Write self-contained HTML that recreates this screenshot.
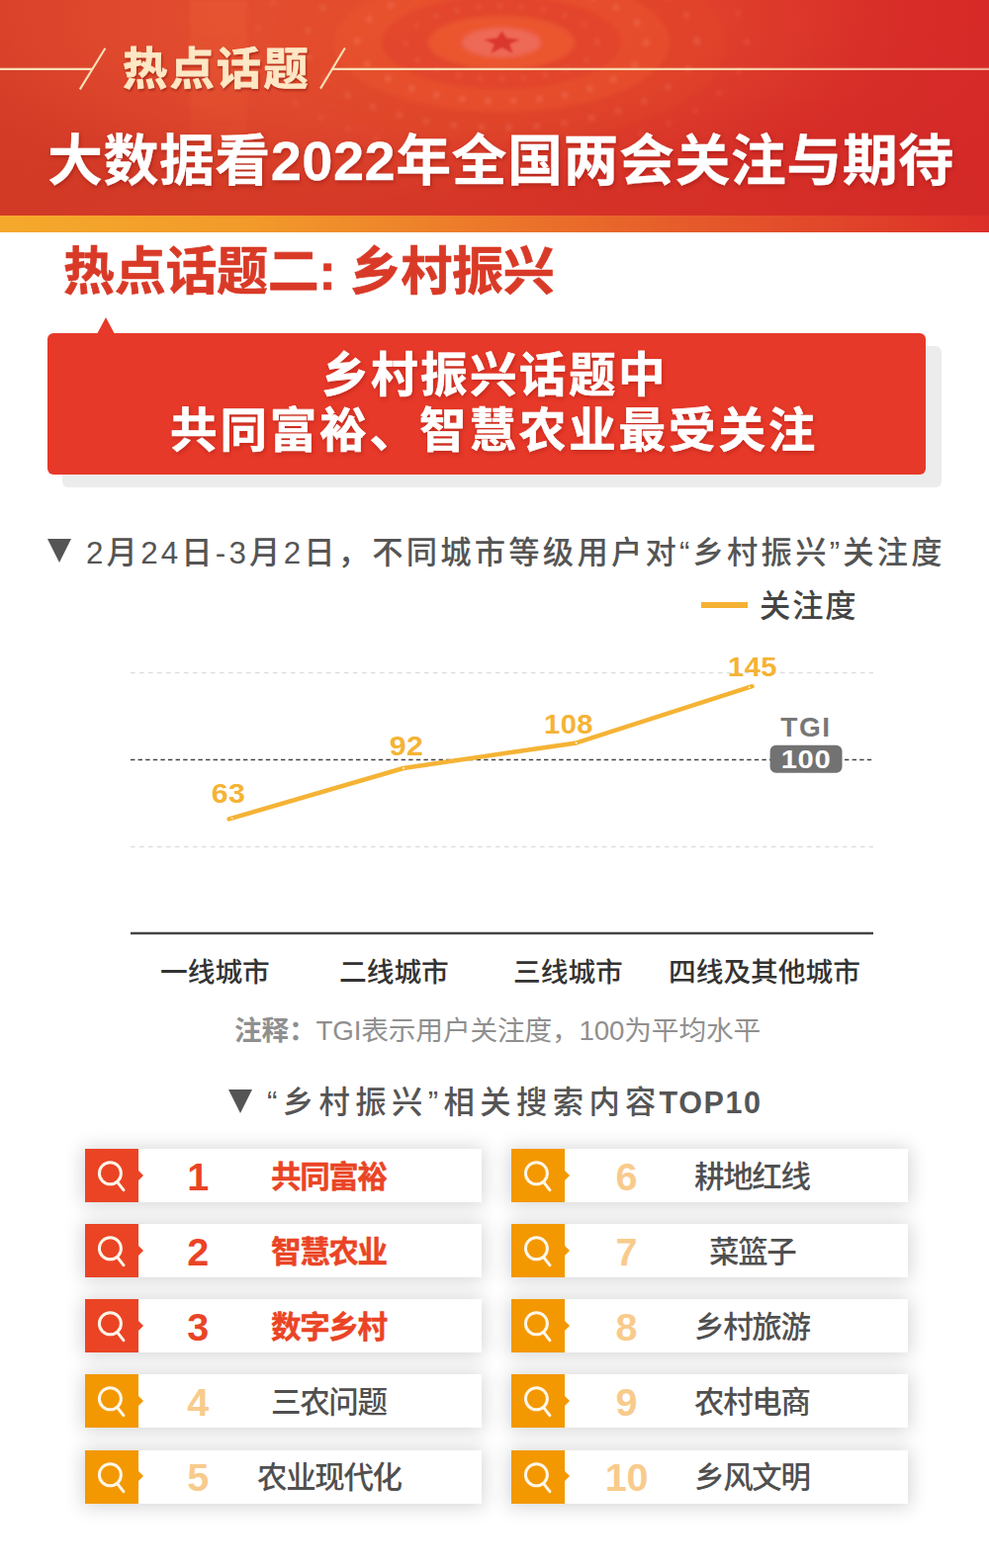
<!DOCTYPE html><html lang="zh-CN"><head><meta charset="utf-8"><title>热点话题二: 乡村振兴</title><style>
*{margin:0;padding:0;box-sizing:border-box}
html,body{width:1000px;height:1586px;background:#fff;overflow:hidden}
body{position:relative;font-family:"Liberation Sans",sans-serif}
i{display:block;position:absolute;font-style:normal}
.t{position:absolute;display:block;margin:0;font-weight:normal;line-height:1;overflow:visible}
.t svg{display:block;position:absolute;left:0;top:0;overflow:visible}
.t text{font-family:"Liberation Sans","Noto Sans CJK SC",sans-serif;white-space:pre}
.hd{position:absolute;left:0;top:0;width:1000px;height:218px;overflow:hidden;background:linear-gradient(180deg,rgba(0,0,0,0) 0%,rgba(60,0,0,.025) 100%),linear-gradient(90deg,#d53b27 0%,#d83b28 30%,#d93228 65%,#d72a28 100%)}
.emb,.deco{position:absolute;left:0;top:0}
.hd .ln{height:2.4px;background:#f8dcb0}
.hd .ln.r{background:linear-gradient(90deg,#f8dcb0 0%,#f8d2a8 60%,#f3a993 100%)}
.hd .sl{width:22px;height:42px;background:linear-gradient(to top left,transparent calc(50% - 1.25px),#f8dcb0 calc(50% - 1.25px),#f8dcb0 calc(50% + 1.25px),transparent calc(50% + 1.25px))}
.sh1 svg{filter:drop-shadow(1px 2px 1px rgba(140,20,10,.55))}
.sh2 svg{filter:drop-shadow(1px 2px 2px rgba(140,15,10,.5))}
.sh3 svg{filter:drop-shadow(1px 2px 2px rgba(150,20,10,.45))}
.stripe{position:absolute;left:0;top:218px;width:1000px;height:16.5px;background:linear-gradient(90deg,#f5a92b 0%,#f29a2a 25%,#ec772a 50%,#e4532a 75%,#dc2f28 100%)}
.bsh{left:63px;top:350px;width:889px;height:143px;border-radius:6px;background:#ececec}
.bbg{left:48px;top:337px;width:888px;height:143px;border-radius:6px;background:#e73929}
.tri{left:98px;top:320.5px;width:0;height:0;border-left:9.5px solid transparent;border-right:9.5px solid transparent;border-bottom:17px solid #e73929}
.dn{width:0;height:0;border-left:12px solid transparent;border-right:12px solid transparent;border-top:24px solid #555}
.lg{left:708.6px;top:609.4px;width:47.2px;height:5.3px;background:#f6b233}
.plot{position:absolute;left:0;top:640px}
.lt{position:absolute;display:block;font-weight:bold;white-space:nowrap}
.v{color:#f5b335}
.tgi{color:#777}
.hun{color:#fff}
.top10{color:#555}
ol{list-style:none;position:absolute;left:0;top:0;z-index:0}
li{position:absolute;width:401px;height:54px;background:#fff}
li:before{content:"";position:absolute;left:0;top:0;right:0;bottom:0;z-index:-1;box-shadow:0 1px 18px 2px rgba(0,0,0,.17)}
li .ic{left:0;top:0;width:54px;height:54px}
li .ic:after{content:"";position:absolute;left:54px;top:21.5px;border-top:5.5px solid transparent;border-bottom:5.5px solid transparent;border-left:5.5px solid}
li.hot .ic{background:#ea4425;color:#ea4425}
li.nor .ic{background:#f39800;color:#f39800}
li.hot .n{color:#ea4425}
li.nor .n{color:#f8cb8c}
</style></head><body><header class="hd"><svg class="emb" width="1000" height="218" viewBox="0 0 1000 218" aria-hidden="true">
<defs><filter id="bl" x="-10%" y="-30%" width="120%" height="160%"><feGaussianBlur stdDeviation="2"/></filter><filter id="bs" x="-20%" y="-20%" width="140%" height="140%"><feGaussianBlur stdDeviation=".9"/></filter>
<radialGradient id="gl" cx="50%" cy="50%" r="50%"><stop offset="0" stop-color="#f4683a" stop-opacity=".5"/><stop offset=".6" stop-color="#f06036" stop-opacity=".34"/><stop offset="1" stop-color="#ec5a32" stop-opacity="0"/></radialGradient>
<linearGradient id="bd" x1="0" y1="0" x2="0" y2="1"><stop offset="0" stop-color="#f2703e" stop-opacity=".22"/><stop offset="1" stop-color="#f2703e" stop-opacity="0"/></linearGradient></defs>
<ellipse cx="400" cy="22" rx="520" ry="180" fill="url(#gl)"/>
<rect x="192" y="0" width="58" height="218" fill="url(#bd)" filter="url(#bl)"/>
<g filter="url(#bl)">
<ellipse cx="507" cy="43" rx="228" ry="100" fill="#e04329" opacity=".25"/>
<ellipse cx="507" cy="43" rx="248" ry="112" fill="none" stroke="#f27a5a" stroke-width="4" stroke-dasharray="0 30" stroke-linecap="round" opacity=".45"/>
<ellipse cx="507" cy="43" rx="170" ry="70" fill="#eb5430" opacity=".55"/>
<ellipse cx="507" cy="43" rx="198" ry="86" fill="none" stroke="#f27a5a" stroke-width="5" stroke-dasharray="0 28" stroke-linecap="round" opacity=".5"/>
<ellipse cx="507" cy="43" rx="121" ry="47" fill="#de3f29" opacity=".42"/>
<ellipse cx="507" cy="43" rx="146" ry="59" fill="none" stroke="#f6876a" stroke-width="5" stroke-dasharray="0 26" stroke-linecap="round" opacity=".5"/>
<ellipse cx="507" cy="43" rx="74" ry="27" fill="#ee5a32" opacity=".8"/>
<ellipse cx="507" cy="43" rx="97" ry="37" fill="none" stroke="#f0705a" stroke-width="4" stroke-dasharray="0 22" stroke-linecap="round" opacity=".55"/>
<ellipse cx="507" cy="43" rx="40" ry="15" fill="#ef6d5e" opacity=".85"/>
</g>
<path d="M507.5 31.5L512.2 38.6L525.6 40.1L515.1 44.4L518.7 54.1L507.5 48.0L496.3 54.1L499.9 44.4L489.4 40.1L502.8 38.6Z" fill="#d8302a" filter="url(#bs)" opacity=".9"/>
</svg><svg class="deco" width="1000" height="110" viewBox="0 0 1000 110" aria-hidden="true"><defs><linearGradient id="lnr" gradientUnits="userSpaceOnUse" x1="336" y1="0" x2="1000" y2="0"><stop offset="0" stop-color="#f9dfb6"/><stop offset=".6" stop-color="#f8d3aa"/><stop offset="1" stop-color="#f2a590"/></linearGradient></defs><g fill="none" stroke="#f9dfb6" stroke-width="2.1"><path d="M0 69.9H93.4M80.8 90.4L106.4 48.8M324 89.6L348.8 48.5"/><path d="M335.9 69.9H1000" stroke="url(#lnr)"/></g></svg><p class="t sh1" style="left:119.70px;top:41.55px;width:195.60px;height:58.85px;"><svg width="195.60" height="58.85"><text x="4" y="43.95" font-size="45.4" font-weight="bold" letter-spacing="2" fill="#fde7c4" stroke="#fde7c4" stroke-width="0.82" stroke-linejoin="round">热点话题</text></svg></p><h1 class="t sh2" style="left:44.30px;top:128.72px;width:924.16px;height:70.72px;"><svg width="924.16" height="70.72"><text x="4" y="53.28" font-size="56" font-weight="bold" fill="#fff" stroke="#fff" stroke-width="0.28" stroke-linejoin="round" textLength="916.16" lengthAdjust="spacing">大数据看2022年全国两会关注与期待</text></svg></h1></header><div class="stripe"></div><main><h2 class="t " style="left:60.00px;top:243.24px;width:504.70px;height:66.24px;"><svg width="504.70" height="66.24"><text x="4" y="49.76" font-size="52" font-weight="bold" fill="#d93a27" stroke="#d93a27" stroke-width="0.68" stroke-linejoin="round" textLength="496.7" lengthAdjust="spacing">热点话题二: 乡村振兴</text></svg></h2><section class="banner"><i class="bsh"></i><i class="tri"></i><i class="bbg"></i><p class="t sh3" style="left:320.90px;top:350.00px;width:355.50px;height:61.20px;"><svg width="355.50" height="61.20"><text x="4" y="45.8" font-size="47.5" font-weight="bold" letter-spacing="2.5" fill="#fff" stroke="#fff" stroke-width="0.71" stroke-linejoin="round">乡村振兴话题中</text></svg></p><p class="t sh3" style="left:167.50px;top:406.20px;width:660.30px;height:61.20px;"><svg width="660.30" height="61.20"><text x="4" y="45.8" font-size="47.5" font-weight="bold" letter-spacing="2.9" fill="#fff" stroke="#fff" stroke-width="0.71" stroke-linejoin="round">共同富裕、智慧农业最受关注</text></svg></p></section><section class="chart"><i class="dn" style="left:47.5px;top:545px"></i><h3 class="t " style="left:82.80px;top:537.76px;width:873.64px;height:43.06px;"><svg width="873.64" height="43.06"><text x="4" y="31.54" font-size="31.3" font-weight="500" fill="#555" textLength="865.64" lengthAdjust="spacing">2月24日-3月2日，不同城市等级用户对“乡村振兴”关注度</text></svg></h3><i class="lg"></i><p class="t " style="left:764.10px;top:591.86px;width:105.60px;height:43.06px;"><svg width="105.60" height="43.06"><text x="4" y="31.54" font-size="31.3" font-weight="500" letter-spacing="1.85" fill="#444">关注度</text></svg></p><svg class="plot" width="1000" height="330" viewBox="0 640 1000 330" aria-hidden="true">
<g fill="none">
<path d="M132 680.5H883M132 856.5H883" stroke="#dedede" stroke-width="1.4" stroke-dasharray="4.5 4.5"/>
<path d="M132 768.5H883" stroke="#444" stroke-width="1.6" stroke-dasharray="4.4 3.2"/>
<path d="M132 944H883" stroke="#444" stroke-width="2.4"/>
<path d="M231.6 828.4L408 777L582.7 751.4L760.5 694.2" stroke="#f5b335" stroke-width="4.5" stroke-linecap="round" stroke-linejoin="round"/>
</g>
<g fill="#fff"><circle cx="234.6" cy="827.5" r=".85"/><circle cx="408" cy="777" r=".9"/><circle cx="582.7" cy="751.4" r=".9"/><circle cx="757.6" cy="695.1" r=".85"/></g>
<rect x="778.6" y="753.8" width="72.9" height="28" rx="6" fill="#727272"/>
</svg><b class="lt v" style="left:231.30px;top:788.60px;font-size:28.00px;line-height:28.00px;letter-spacing:0.50px;transform:translateX(-50%) scaleX(1.080);transform-origin:50% 50%;">63</b><b class="lt v" style="left:410.70px;top:741.10px;font-size:28.00px;line-height:28.00px;letter-spacing:0.50px;transform:translateX(-50%) scaleX(1.080);transform-origin:50% 50%;">92</b><b class="lt v" style="left:575.40px;top:719.20px;font-size:28.00px;line-height:28.00px;letter-spacing:0.50px;transform:translateX(-50%) scaleX(1.040);transform-origin:50% 50%;">108</b><b class="lt v" style="left:760.60px;top:660.60px;font-size:28.00px;line-height:28.00px;letter-spacing:0.50px;transform:translateX(-50%) scaleX(1.040);transform-origin:50% 50%;">145</b><b class="lt tgi" style="left:814.60px;top:721.72px;font-size:27.50px;line-height:27.50px;letter-spacing:1.50px;transform:translateX(-50%) scaleX(1.020);transform-origin:50% 50%;">TGI</b><b class="lt hun" style="left:815.30px;top:754.87px;font-size:26.50px;line-height:26.50px;letter-spacing:0.60px;transform:translateX(-50%) scaleX(1.100);transform-origin:50% 50%;">100</b><p class="t " style="left:158.10px;top:964.92px;width:118.80px;height:39.02px;"><svg width="118.80" height="39.02"><text x="4" y="28.38" font-size="27.7" font-weight="500" fill="#333">一线城市</text></svg></p><p class="t " style="left:338.60px;top:964.92px;width:118.80px;height:39.02px;"><svg width="118.80" height="39.02"><text x="4" y="28.38" font-size="27.7" font-weight="500" fill="#333">二线城市</text></svg></p><p class="t " style="left:515.00px;top:964.92px;width:118.80px;height:39.02px;"><svg width="118.80" height="39.02"><text x="4" y="28.38" font-size="27.7" font-weight="500" fill="#333">三线城市</text></svg></p><p class="t " style="left:672.05px;top:964.92px;width:201.90px;height:39.02px;"><svg width="201.90" height="39.02"><text x="4" y="28.38" font-size="27.7" font-weight="500" fill="#333">四线及其他城市</text></svg></p><p class="t " style="left:233.40px;top:1024.02px;width:540.17px;height:39.02px;"><svg width="540.17" height="39.02"><text x="4" y="28.38" font-size="27.7" fill="#8f8f8f" textLength="532.17" lengthAdjust="spacing"><tspan font-weight="bold">注释：</tspan>TGI表示用户关注度，100为平均水平</text></svg></p></section><section class="top"><i class="dn" style="left:231.4px;top:1101.5px"></i><h3 class="t " style="left:266.20px;top:1094.16px;width:401.42px;height:43.06px;"><svg width="401.42" height="43.06"><text x="4" y="31.54" font-size="31.3" font-weight="500" fill="#555" textLength="393.42" lengthAdjust="spacing">“乡村振兴”相关搜索内容</text></svg></h3><b class="lt top10" style="left:666.50px;top:1099.78px;font-size:30.50px;line-height:30.50px;letter-spacing:1.60px;transform:translateX(0);transform-origin:0 50%;">TOP10</b><ol><li class="hot" style="left:86.0px;top:1162.0px"><i class="ic"><svg width="54" height="54" viewBox="0 0 54 54" aria-hidden="true"><g fill="none" stroke="#fff6e8" stroke-width="3" stroke-linecap="round"><circle cx="25.4" cy="24.8" r="11"/><path d="M32.6 33.6L38.9 41.7"/></g></svg></i><b class="lt n" style="left:114.20px;top:8.76px;font-size:39.50px;line-height:39.50px;letter-spacing:0.00px;transform:translateX(-50%);transform-origin:50% 50%;">1</b><span class="t " style="left:184.22px;top:7.76px;width:125.95px;height:42.16px;"><svg width="125.95" height="42.16"><text x="4" y="30.84" font-size="30.5" font-weight="bold" letter-spacing="-1.35" fill="#ea4425" stroke="#ea4425" stroke-width="0.46" stroke-linejoin="round">共同富裕</text></svg></span></li><li class="hot" style="left:86.0px;top:1238.0px"><i class="ic"><svg width="54" height="54" viewBox="0 0 54 54" aria-hidden="true"><g fill="none" stroke="#fff6e8" stroke-width="3" stroke-linecap="round"><circle cx="25.4" cy="24.8" r="11"/><path d="M32.6 33.6L38.9 41.7"/></g></svg></i><b class="lt n" style="left:114.20px;top:8.76px;font-size:39.50px;line-height:39.50px;letter-spacing:0.00px;transform:translateX(-50%);transform-origin:50% 50%;">2</b><span class="t " style="left:184.22px;top:7.76px;width:125.95px;height:42.16px;"><svg width="125.95" height="42.16"><text x="4" y="30.84" font-size="30.5" font-weight="bold" letter-spacing="-1.35" fill="#ea4425" stroke="#ea4425" stroke-width="0.46" stroke-linejoin="round">智慧农业</text></svg></span></li><li class="hot" style="left:86.0px;top:1314.0px"><i class="ic"><svg width="54" height="54" viewBox="0 0 54 54" aria-hidden="true"><g fill="none" stroke="#fff6e8" stroke-width="3" stroke-linecap="round"><circle cx="25.4" cy="24.8" r="11"/><path d="M32.6 33.6L38.9 41.7"/></g></svg></i><b class="lt n" style="left:114.20px;top:8.76px;font-size:39.50px;line-height:39.50px;letter-spacing:0.00px;transform:translateX(-50%);transform-origin:50% 50%;">3</b><span class="t " style="left:184.22px;top:7.76px;width:125.95px;height:42.16px;"><svg width="125.95" height="42.16"><text x="4" y="30.84" font-size="30.5" font-weight="bold" letter-spacing="-1.35" fill="#ea4425" stroke="#ea4425" stroke-width="0.46" stroke-linejoin="round">数字乡村</text></svg></span></li><li class="nor" style="left:86.0px;top:1390.0px"><i class="ic"><svg width="54" height="54" viewBox="0 0 54 54" aria-hidden="true"><g fill="none" stroke="#fff6e8" stroke-width="3" stroke-linecap="round"><circle cx="25.4" cy="24.8" r="11"/><path d="M32.6 33.6L38.9 41.7"/></g></svg></i><b class="lt n" style="left:114.20px;top:8.76px;font-size:39.50px;line-height:39.50px;letter-spacing:0.00px;transform:translateX(-50%);transform-origin:50% 50%;">4</b><span class="t " style="left:184.22px;top:7.76px;width:125.95px;height:42.16px;"><svg width="125.95" height="42.16"><text x="4" y="30.84" font-size="30.5" font-weight="500" letter-spacing="-1.35" fill="#505050">三农问题</text></svg></span></li><li class="nor" style="left:86.0px;top:1466.5px"><i class="ic"><svg width="54" height="54" viewBox="0 0 54 54" aria-hidden="true"><g fill="none" stroke="#fff6e8" stroke-width="3" stroke-linecap="round"><circle cx="25.4" cy="24.8" r="11"/><path d="M32.6 33.6L38.9 41.7"/></g></svg></i><b class="lt n" style="left:114.20px;top:8.76px;font-size:39.50px;line-height:39.50px;letter-spacing:0.00px;transform:translateX(-50%);transform-origin:50% 50%;">5</b><span class="t " style="left:169.65px;top:7.76px;width:155.10px;height:42.16px;"><svg width="155.10" height="42.16"><text x="4" y="30.84" font-size="30.5" font-weight="500" letter-spacing="-1.35" fill="#505050">农业现代化</text></svg></span></li><li class="nor" style="left:516.5px;top:1162.0px"><i class="ic"><svg width="54" height="54" viewBox="0 0 54 54" aria-hidden="true"><g fill="none" stroke="#fff6e8" stroke-width="3" stroke-linecap="round"><circle cx="25.4" cy="24.8" r="11"/><path d="M32.6 33.6L38.9 41.7"/></g></svg></i><b class="lt n" style="left:117.10px;top:8.76px;font-size:39.50px;line-height:39.50px;letter-spacing:0.00px;transform:translateX(-50%);transform-origin:50% 50%;">6</b><span class="t " style="left:181.53px;top:7.76px;width:125.95px;height:42.16px;"><svg width="125.95" height="42.16"><text x="4" y="30.84" font-size="30.5" font-weight="500" letter-spacing="-1.35" fill="#505050">耕地红线</text></svg></span></li><li class="nor" style="left:516.5px;top:1238.0px"><i class="ic"><svg width="54" height="54" viewBox="0 0 54 54" aria-hidden="true"><g fill="none" stroke="#fff6e8" stroke-width="3" stroke-linecap="round"><circle cx="25.4" cy="24.8" r="11"/><path d="M32.6 33.6L38.9 41.7"/></g></svg></i><b class="lt n" style="left:117.10px;top:8.76px;font-size:39.50px;line-height:39.50px;letter-spacing:0.00px;transform:translateX(-50%);transform-origin:50% 50%;">7</b><span class="t " style="left:196.10px;top:7.76px;width:96.80px;height:42.16px;"><svg width="96.80" height="42.16"><text x="4" y="30.84" font-size="30.5" font-weight="500" letter-spacing="-1.35" fill="#505050">菜篮子</text></svg></span></li><li class="nor" style="left:516.5px;top:1314.0px"><i class="ic"><svg width="54" height="54" viewBox="0 0 54 54" aria-hidden="true"><g fill="none" stroke="#fff6e8" stroke-width="3" stroke-linecap="round"><circle cx="25.4" cy="24.8" r="11"/><path d="M32.6 33.6L38.9 41.7"/></g></svg></i><b class="lt n" style="left:117.10px;top:8.76px;font-size:39.50px;line-height:39.50px;letter-spacing:0.00px;transform:translateX(-50%);transform-origin:50% 50%;">8</b><span class="t " style="left:181.53px;top:7.76px;width:125.95px;height:42.16px;"><svg width="125.95" height="42.16"><text x="4" y="30.84" font-size="30.5" font-weight="500" letter-spacing="-1.35" fill="#505050">乡村旅游</text></svg></span></li><li class="nor" style="left:516.5px;top:1390.0px"><i class="ic"><svg width="54" height="54" viewBox="0 0 54 54" aria-hidden="true"><g fill="none" stroke="#fff6e8" stroke-width="3" stroke-linecap="round"><circle cx="25.4" cy="24.8" r="11"/><path d="M32.6 33.6L38.9 41.7"/></g></svg></i><b class="lt n" style="left:117.10px;top:8.76px;font-size:39.50px;line-height:39.50px;letter-spacing:0.00px;transform:translateX(-50%);transform-origin:50% 50%;">9</b><span class="t " style="left:181.53px;top:7.76px;width:125.95px;height:42.16px;"><svg width="125.95" height="42.16"><text x="4" y="30.84" font-size="30.5" font-weight="500" letter-spacing="-1.35" fill="#505050">农村电商</text></svg></span></li><li class="nor" style="left:516.5px;top:1466.5px"><i class="ic"><svg width="54" height="54" viewBox="0 0 54 54" aria-hidden="true"><g fill="none" stroke="#fff6e8" stroke-width="3" stroke-linecap="round"><circle cx="25.4" cy="24.8" r="11"/><path d="M32.6 33.6L38.9 41.7"/></g></svg></i><b class="lt n" style="left:117.10px;top:8.76px;font-size:39.50px;line-height:39.50px;letter-spacing:0.00px;transform:translateX(-50%);transform-origin:50% 50%;">10</b><span class="t " style="left:181.53px;top:7.76px;width:125.95px;height:42.16px;"><svg width="125.95" height="42.16"><text x="4" y="30.84" font-size="30.5" font-weight="500" letter-spacing="-1.35" fill="#505050">乡风文明</text></svg></span></li></ol></section></main></body></html>
